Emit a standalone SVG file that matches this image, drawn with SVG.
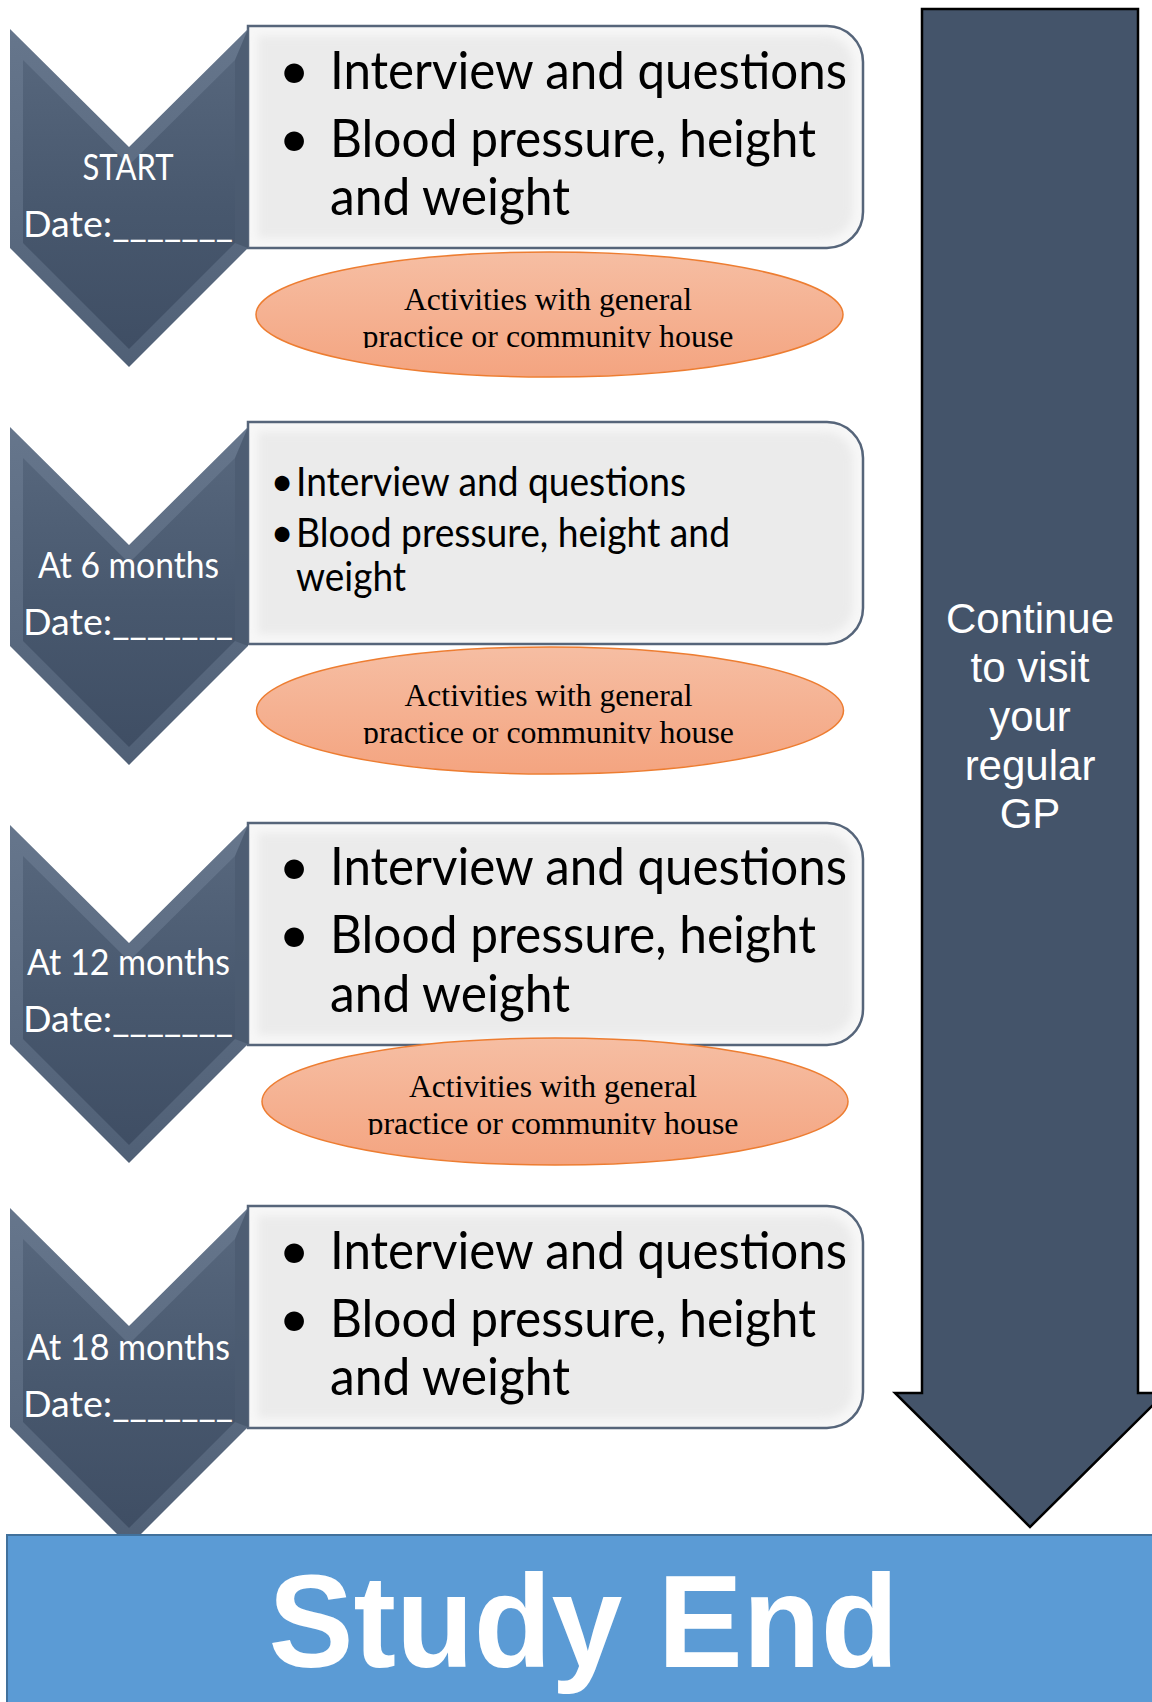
<svg xmlns="http://www.w3.org/2000/svg" xmlns:xlink="http://www.w3.org/1999/xlink" width="1152" height="1702" viewBox="0 0 1152 1702">
<style>
.chv{font-family:Lato,"Open Sans","Noto Sans",sans-serif;font-size:36px;fill:#ffffff}
.big{font-family:Lato,"Open Sans","Noto Sans",sans-serif;font-size:53px;fill:#000000}
.small{font-family:Lato,"Open Sans","Noto Sans",sans-serif;font-size:40px;fill:#000000}
.ell{font-family:"Liberation Serif","Times New Roman",serif;font-size:32px;fill:#000000}
.cont{font-family:"Liberation Sans",Arial,sans-serif;font-size:42px;fill:#ffffff}
.end{font-family:"Liberation Sans",Arial,sans-serif;font-size:131px;font-weight:bold;fill:#ffffff}
</style>
<defs>
<linearGradient id="gOuter" x1="0" y1="0" x2="0" y2="1">
<stop offset="0" stop-color="#66768C"/>
<stop offset="1" stop-color="#506076"/>
</linearGradient>
<linearGradient id="gInner" x1="0" y1="0" x2="0" y2="1">
<stop offset="0" stop-color="#56667C"/>
<stop offset="0.5" stop-color="#48586E"/>
<stop offset="1" stop-color="#3F4E64"/>
</linearGradient>
<linearGradient id="gEll" x1="0" y1="0" x2="0" y2="1">
<stop offset="0" stop-color="#F6BEA3"/>
<stop offset="1" stop-color="#F4A480"/>
</linearGradient>
<filter id="blur" x="-5%" y="-10%" width="110%" height="120%">
<feGaussianBlur stdDeviation="4"/>
</filter>
<g id="chev">
<polygon points="10,0 129,118 248,0 248,219 129,338 10,219" fill="url(#gOuter)"/>
<polygon points="23,31 129,136 235,31 235,214 129,320 23,214" fill="url(#gInner)"/>
<polygon points="235,31 248,0 248,219 235,214" fill="#44546A" opacity="0.7"/>
</g>
<g id="box">
<path d="M248,0 H827 A36,36 0 0 1 863,36 V186 A36,36 0 0 1 827,222 H248 Z" fill="#F7F7F7"/>
<path d="M258,10 H825 A28,28 0 0 1 853,38 V184 A28,28 0 0 1 825,212 H258 Z" fill="#EBEBEB" filter="url(#blur)"/>
<path d="M248,0 H827 A36,36 0 0 1 863,36 V186 A36,36 0 0 1 827,222 H248 Z" fill="none" stroke="#56657A" stroke-width="2.5"/>
</g>
<clipPath id="c1" clipPathUnits="userSpaceOnUse"><rect x="240" y="240" width="620" height="108"/></clipPath>
<clipPath id="c2" clipPathUnits="userSpaceOnUse"><rect x="240" y="640" width="620" height="104"/></clipPath>
<clipPath id="c3" clipPathUnits="userSpaceOnUse"><rect x="240" y="1030" width="620" height="105"/></clipPath>
</defs>
<rect x="0" y="0" width="1152" height="1702" fill="#ffffff"/>

<g id="connectors"/>

<g id="gp-arrow">
<polygon points="922,9 1138,9 1138,1393 1165,1393 1030,1527 895,1393 922,1393" fill="#44546A" stroke="#000000" stroke-width="2.5"/>
<text class="cont" text-anchor="middle"><tspan x="1030" y="633">Continue</tspan><tspan x="1030" y="682">to visit</tspan><tspan x="1030" y="731">your</tspan><tspan x="1030" y="780">regular</tspan><tspan x="1030" y="828">GP</tspan></text>
</g>

<g id="box-start">
<use xlink:href="#box" href="#box" y="26"/>
<text class="big" x="294" y="89" text-anchor="middle">•</text>
<text class="big" x="330" y="89" textLength="517" lengthAdjust="spacingAndGlyphs">Interview and questions</text>
<text class="big" x="294" y="157" text-anchor="middle">•</text>
<text class="big" x="330" y="157" textLength="486" lengthAdjust="spacingAndGlyphs">Blood pressure, height</text>
<text class="big" x="330" y="215" textLength="240" lengthAdjust="spacingAndGlyphs">and weight</text>
</g>
<g id="chev-start">
<use xlink:href="#chev" href="#chev" y="29"/>
<text class="chv" x="128" y="180" text-anchor="middle" textLength="91" lengthAdjust="spacingAndGlyphs">START</text>
<text class="chv" x="23" y="237" textLength="210" lengthAdjust="spacingAndGlyphs">Date:_______</text>
</g>
<g id="act-1">
<ellipse cx="549.5" cy="314.5" rx="293.5" ry="62.5" fill="url(#gEll)" stroke="#ED7D31" stroke-width="1.5"/>
<g clip-path="url(#c1)">
<text class="ell" x="548" y="309.5" text-anchor="middle" textLength="288" lengthAdjust="spacingAndGlyphs">Activities with general</text>
<text class="ell" x="548" y="346.5" text-anchor="middle" textLength="371" lengthAdjust="spacingAndGlyphs">practice or community house</text>
</g>
</g>

<g id="box-6m">
<use xlink:href="#box" href="#box" y="422"/>
<text class="small" x="282" y="496" text-anchor="middle">•</text>
<text class="small" x="296" y="496" textLength="390" lengthAdjust="spacingAndGlyphs">Interview and questions</text>
<text class="small" x="282" y="547" text-anchor="middle">•</text>
<text class="small" x="296" y="547" textLength="434" lengthAdjust="spacingAndGlyphs">Blood pressure, height and</text>
<text class="small" x="296" y="591" textLength="110" lengthAdjust="spacingAndGlyphs">weight</text>
</g>
<g id="chev-6m">
<use xlink:href="#chev" href="#chev" y="427"/>
<text class="chv" x="128.5" y="578" text-anchor="middle" textLength="181" lengthAdjust="spacingAndGlyphs">At 6 months</text>
<text class="chv" x="23" y="635" textLength="210" lengthAdjust="spacingAndGlyphs">Date:_______</text>
</g>
<g id="act-2">
<ellipse cx="550" cy="710.5" rx="293.5" ry="63.5" fill="url(#gEll)" stroke="#ED7D31" stroke-width="1.5"/>
<g clip-path="url(#c2)">
<text class="ell" x="548.5" y="705.5" text-anchor="middle" textLength="288" lengthAdjust="spacingAndGlyphs">Activities with general</text>
<text class="ell" x="548.5" y="742.5" text-anchor="middle" textLength="371" lengthAdjust="spacingAndGlyphs">practice or community house</text>
</g>
</g>

<g id="box-12m">
<use xlink:href="#box" href="#box" y="823"/>
<text class="big" x="294" y="885" text-anchor="middle">•</text>
<text class="big" x="330" y="885" textLength="517" lengthAdjust="spacingAndGlyphs">Interview and questions</text>
<text class="big" x="294" y="953" text-anchor="middle">•</text>
<text class="big" x="330" y="953" textLength="486" lengthAdjust="spacingAndGlyphs">Blood pressure, height</text>
<text class="big" x="330" y="1012" textLength="240" lengthAdjust="spacingAndGlyphs">and weight</text>
</g>
<g id="chev-12m">
<use xlink:href="#chev" href="#chev" y="825"/>
<text class="chv" x="128.5" y="975" text-anchor="middle" textLength="203" lengthAdjust="spacingAndGlyphs">At 12 months</text>
<text class="chv" x="23" y="1032" textLength="210" lengthAdjust="spacingAndGlyphs">Date:_______</text>
</g>
<g id="act-3">
<ellipse cx="555" cy="1101.5" rx="293" ry="63.5" fill="url(#gEll)" stroke="#ED7D31" stroke-width="1.5"/>
<g clip-path="url(#c3)">
<text class="ell" x="553" y="1096.5" text-anchor="middle" textLength="288" lengthAdjust="spacingAndGlyphs">Activities with general</text>
<text class="ell" x="553" y="1133.5" text-anchor="middle" textLength="371" lengthAdjust="spacingAndGlyphs">practice or community house</text>
</g>
</g>

<g id="box-18m">
<use xlink:href="#box" href="#box" y="1206"/>
<text class="big" x="294" y="1269" text-anchor="middle">•</text>
<text class="big" x="330" y="1269" textLength="517" lengthAdjust="spacingAndGlyphs">Interview and questions</text>
<text class="big" x="294" y="1337" text-anchor="middle">•</text>
<text class="big" x="330" y="1337" textLength="486" lengthAdjust="spacingAndGlyphs">Blood pressure, height</text>
<text class="big" x="330" y="1395" textLength="240" lengthAdjust="spacingAndGlyphs">and weight</text>
</g>
<g id="chev-18m">
<use xlink:href="#chev" href="#chev" y="1208"/>
<text class="chv" x="128.5" y="1360" text-anchor="middle" textLength="203" lengthAdjust="spacingAndGlyphs">At 18 months</text>
<text class="chv" x="23" y="1417" textLength="210" lengthAdjust="spacingAndGlyphs">Date:_______</text>
</g>

<g id="study-end">
<rect x="7" y="1535" width="1160" height="180" fill="#5B9BD5" stroke="#41719C" stroke-width="2"/>
<text class="end" x="583.5" y="1667" text-anchor="middle" textLength="630" lengthAdjust="spacingAndGlyphs">Study End</text>
</g>
</svg>
